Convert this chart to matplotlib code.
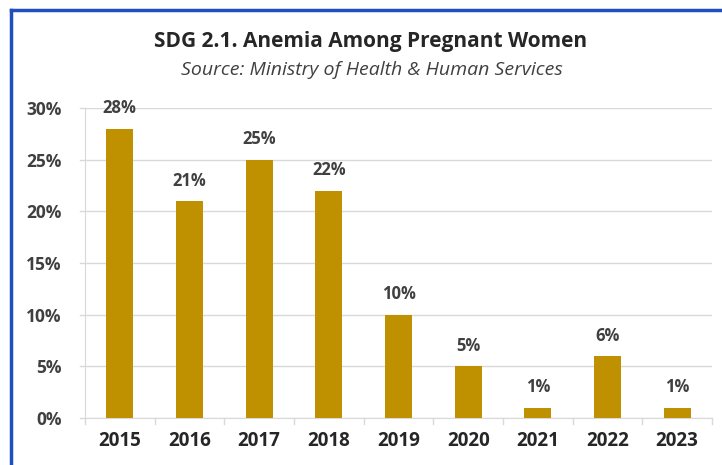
import matplotlib.pyplot as plt
from matplotlib.lines import Line2D

# Data
years = ['2015', '2016', '2017', '2018', '2019', '2020', '2021', '2022', '2023']
values = [28, 21, 25, 22, 10, 5, 1, 6, 1]
y_ticks = [0, 5, 10, 15, 20, 25, 30]

W, H = 722, 465
fig = plt.figure(figsize=(W / 100, H / 100), dpi=100)
plt.rcParams['font.family'] = ['Open Sans', 'DejaVu Sans']

# plot area in pixels: left 85, right 712, top 108, bottom 418
ax = fig.add_axes([85 / W, 1 - 418 / H, (712 - 85) / W, (418 - 108) / H])

bar_color = '#BF9000'
x = range(len(years))
ax.bar(x, values, width=0.39, color=bar_color, zorder=3)

for i, v in enumerate(values):
    ax.text(i, v + 1.1, f'{v}%', ha='center', va='bottom', fontsize=12,
            fontweight='bold', color='#404040')

ax.set_xlim(-0.5, len(years) - 0.5)
ax.set_ylim(0, 30)
ax.set_yticks(y_ticks)
ax.set_yticklabels([f'{t}%' for t in y_ticks])
ax.set_xticks(list(x))
ax.set_xticklabels(years)
ax.grid(axis='y', color='#D9D9D9', linewidth=1, zorder=0)

# short gridline overhang left of the axis
for t in y_ticks:
    ax.plot([-0.5 - 5 / 69.7, -0.5], [t, t], color='#D9D9D9', linewidth=1, clip_on=False)

for side in ['top', 'right']:
    ax.spines[side].set_visible(False)
ax.spines['left'].set_color('#D9D9D9')
ax.spines['bottom'].set_color('#D9D9D9')
ax.tick_params(axis='y', length=0, pad=17, labelsize=12.5, labelcolor='#404040')
ax.tick_params(axis='x', length=0, pad=9, labelsize=13.5, labelcolor='#262626')
for lbl in ax.get_yticklabels() + ax.get_xticklabels():
    lbl.set_fontweight('bold')

# small ticks between categories
for b in [i + 0.5 for i in range(-1, len(years))]:
    ax.plot([b, b], [0, -0.6], color='#D9D9D9', linewidth=1, clip_on=False)

fig.text(371 / W, 1 - 42 / H, 'SDG 2.1. Anemia Among Pregnant Women', ha='center',
         va='center', fontsize=15, fontweight='bold', color='#262626')
fig.text(372 / W, 1 - 70 / H, 'Source: Ministry of Health & Human Services', ha='center',
         va='center', fontsize=14, style='italic', color='#404040')

# blue frame on left and top
fig.add_artist(Line2D([11 / W, 11 / W], [0, 1 - 10 / H], color='#1F4EBF', linewidth=2.5,
                      transform=fig.transFigure))
fig.add_artist(Line2D([11 / W, 1], [1 - 10 / H, 1 - 10 / H], color='#1F4EBF', linewidth=2.5,
                      transform=fig.transFigure))

fig.savefig('out.png', dpi=100)
